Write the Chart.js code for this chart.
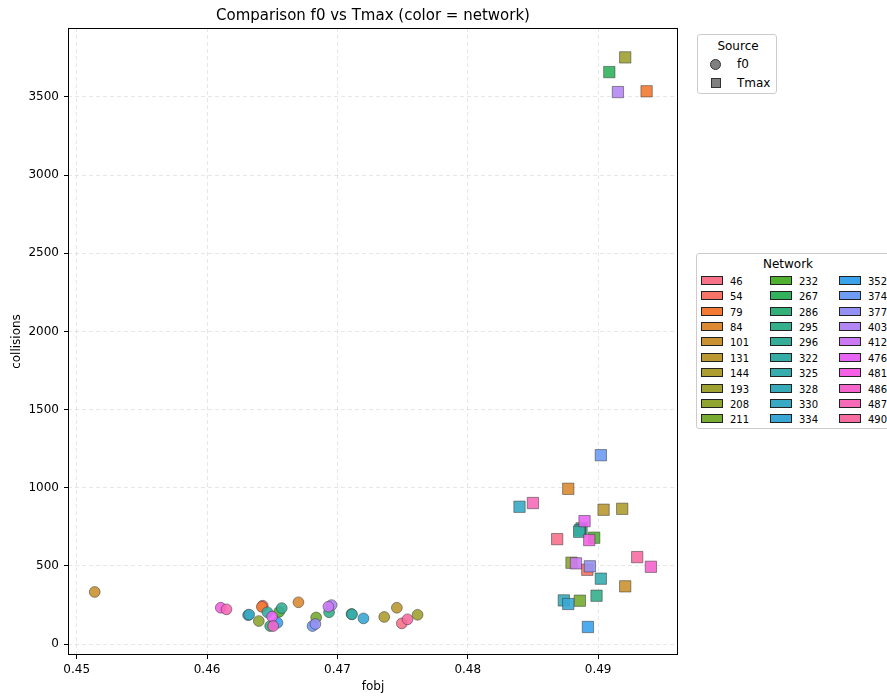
<!DOCTYPE html>
<html>
<head>
<meta charset="utf-8">
<script src="https://cdn.jsdelivr.net/npm/chart.js@4.4.1/dist/chart.umd.min.js"></script>
<style>
  html, body { margin: 0; padding: 0; background: #fff; overflow: hidden; }
  #wrap { position: relative; width: 887px; height: 697px; font-family: "DejaVu Sans", sans-serif; color: #000; }
  #chart { position: absolute; left: 0; top: 0; }
  #title { position: absolute; left: 373px; top: 15px; transform: translate(-50%, -50%); font-size: 15px; white-space: nowrap; }
  .legend { position: absolute; background: #fff; border: 1px solid #ccc; border-radius: 3px; box-sizing: border-box; }
  .legend .ttl { position: absolute; font-size: 12px; white-space: nowrap; transform: translate(-50%, -50%); }
  .legend .lbl { position: absolute; white-space: nowrap; transform: translateY(-50%); }
  .legend .mk { position: absolute; box-sizing: border-box; }
</style>
</head>
<body>
<div id="wrap">
  <canvas id="chart" width="887" height="697"></canvas>
  <div id="title">Comparison f0 vs Tmax (color = network)</div>
  <div id="srcLegend" class="legend"></div>
  <div id="netLegend" class="legend"></div>
</div>
<script>
// networks, in palette order
const networks = [46, 54, 79, 84, 101, 131, 144, 193, 208, 211, 232, 267, 286, 295, 296,
                  322, 325, 328, 330, 334, 352, 374, 377, 403, 412, 476, 481, 486, 487, 490];

// f0 result per network
const f0Fobj = [0.47494, 0.46427, 0.46420, 0.46701, 0.45138, 0.47456, 0.47359, 0.47615, 0.46397, 0.46837,
                0.46553, 0.47108, 0.46484, 0.46936, 0.46573, 0.46463, 0.47112, 0.46315, 0.46323, 0.47200,
                0.46540, 0.46809, 0.46831, 0.46955, 0.46931, 0.46499, 0.46105, 0.46507, 0.46149, 0.47538];
const f0Coll = [132, 245, 238, 267, 333, 232, 173, 187, 147, 170,
                206, 192, 115, 203, 230, 203, 190, 185, 188, 164,
                136, 115, 128, 249, 239, 175, 232, 115, 222, 158];

// Tmax result per network
const tmaxFobj = [0.48686, 0.48917, 0.49372, 0.48771, 0.49208, 0.49042, 0.49185, 0.49208, 0.48796, 0.48860,
                  0.48970, 0.49086, 0.48873, 0.48988, 0.48860, 0.48855, 0.49021, 0.48737, 0.48397, 0.48771,
                  0.48922, 0.49021, 0.48937, 0.49152, 0.48830, 0.48896, 0.48932, 0.49405, 0.48500, 0.49300];
const tmaxColl = [671, 475, 3536, 993, 369, 859, 865, 3753, 520, 277,
                  680, 3659, 740, 309, 728, 718, 418, 279, 878, 256,
                  109, 1208, 497, 3531, 516, 786, 665, 494, 902, 556];

const xTicks = [0.45, 0.46, 0.47, 0.48, 0.49];
const yTicks = [0, 500, 1000, 1500, 2000, 2500, 3000, 3500];

// husl palette (seaborn style): evenly spaced hues, s=.9, l=.65
function huslColor(h, s, l) {
  const M = [[3.240969941904521, -1.537383177570093, -0.498610760293],
             [-0.96924363628087, 1.87596750150772, 0.041555057407175],
             [0.055630079696993, -0.20397695888897, 1.056971514242878]];
  const refU = 0.19783000664283, refV = 0.46831999493879;
  const kappa = 903.2962962, eps = 0.0088564516;
  // max chroma for this lightness / hue
  const sub1 = Math.pow(l + 16, 3) / 1560896;
  const sub2 = sub1 > eps ? sub1 : l / kappa;
  const hrad = h / 360 * 2 * Math.PI;
  let maxC = Infinity;
  for (const [m1, m2, m3] of M) {
    for (const t of [0, 1]) {
      const top1 = (284517 * m1 - 94839 * m3) * sub2;
      const top2 = (838422 * m3 + 769860 * m2 + 731718 * m1) * l * sub2 - 769860 * t * l;
      const bottom = (632260 * m3 - 126452 * m2) * sub2 + 126452 * t;
      const slope = top1 / bottom, icpt = top2 / bottom;
      const len = icpt / (Math.sin(hrad) - slope * Math.cos(hrad));
      if (len >= 0 && len < maxC) maxC = len;
    }
  }
  const c = maxC / 100 * s;
  const u = c * Math.cos(hrad), v = c * Math.sin(hrad);
  const Y = l > 8 ? Math.pow((l + 16) / 116, 3) : l / kappa;
  const vu = u / (13 * l) + refU, vv = v / (13 * l) + refV;
  const X = 0 - (9 * Y * vu) / ((vu - 4) * vv - vu * vv);
  const Z = (9 * Y - 15 * vv * Y - vv * X) / (3 * vv);
  const rgb = M.map(r => {
    let ch = r[0] * X + r[1] * Y + r[2] * Z;
    ch = ch <= 0.0031308 ? 12.92 * ch : 1.055 * Math.pow(ch, 1 / 2.4) - 0.055;
    return Math.round(Math.min(1, Math.max(0, ch)) * 255);
  });
  return rgb;
}

const palette = networks.map((_, i) => {
  const h = ((i / networks.length + 0.01) % 1) * 359;
  return huslColor(h, 89.1, 64.35);
});
const rgba = (c, a) => `rgba(${c[0]},${c[1]},${c[2]},${a})`;

const f0Points = networks.map((_, i) => ({ x: f0Fobj[i], y: f0Coll[i] }));
const tmaxPoints = networks.map((_, i) => ({ x: tmaxFobj[i], y: tmaxColl[i] }));

// full frame around the plot area
const frame = {
  id: 'frame',
  afterDraw(chart) {
    const { ctx, chartArea: a } = chart;
    ctx.save();
    ctx.strokeStyle = '#000';
    ctx.lineWidth = 1;
    ctx.strokeRect(a.left + 0.5, a.top + 0.5, a.right - a.left - 1, a.bottom - a.top - 1);
    ctx.restore();
  }
};

const ctx = document.getElementById('chart').getContext('2d');
new Chart(ctx, {
  type: 'scatter',
  data: {
    datasets: [{
      label: 'f0',
      data: f0Points,
      pointStyle: 'circle',
      pointRadius: 5.4,
      pointHoverRadius: 5.4,
      backgroundColor: palette.map(c => rgba(c, 0.9)),
      borderColor: 'rgba(50,50,50,0.85)',
      borderWidth: 0.6
    }, {
      label: 'Tmax',
      data: tmaxPoints,
      pointStyle: 'rect',
      pointRadius: 8,
      pointHoverRadius: 8,
      backgroundColor: palette.map(c => rgba(c, 0.9)),
      borderColor: 'rgba(50,50,50,0.85)',
      borderWidth: 0.6
    }]
  },
  options: {
    responsive: false,
    animation: false,
    // title sits above the plot area (html), so keep room for it here
    layout: { padding: { left: 0, right: 209, top: 28, bottom: 0 } },
    plugins: {
      legend: { display: false },
      tooltip: { enabled: false },
      title: { display: false }
    },
    scales: {
      x: {
        type: 'linear',
        min: 0.44933,
        max: 0.49613,
        afterBuildTicks: s => { s.ticks = xTicks.map(v => ({ value: v })); },
        afterFit: s => { s.height = 42; },
        ticks: {
          color: '#000',
          font: { family: 'DejaVu Sans', size: 12 },
          padding: 4,
          maxRotation: 0,
          callback: v => v.toFixed(2)
        },
        grid: { color: 'rgba(0,0,0,0.12)', tickColor: '#000', tickLength: 4, tickWidth: 1, lineWidth: 0.8 },
        border: { display: false, dash: [4, 3] },
        title: { display: true, text: 'fobj', color: '#000', font: { family: 'DejaVu Sans', size: 12 }, padding: { top: 0, bottom: 3 } }
      },
      y: {
        type: 'linear',
        min: -70.3,
        max: 3941,
        afterBuildTicks: s => { s.ticks = yTicks.map(v => ({ value: v })); },
        afterFit: s => { s.width = 68; },
        ticks: {
          color: '#000',
          font: { family: 'DejaVu Sans', size: 12 },
          padding: 5,
          callback: v => String(v)
        },
        grid: { color: 'rgba(0,0,0,0.12)', tickColor: '#000', tickLength: 4, tickWidth: 1, lineWidth: 0.8 },
        border: { display: false, dash: [4, 3] },
        title: { display: true, text: 'collisions', color: '#000', font: { family: 'DejaVu Sans', size: 12 }, padding: { top: 10, bottom: 0 } }
      }
    }
  },
  plugins: [frame]
});

// Source legend (marker shapes)
const src = document.getElementById('srcLegend');
Object.assign(src.style, { left: '697px', top: '34px', width: '80px', height: '60px' });
src.innerHTML =
  '<div class="ttl" style="left:40px;top:11px">Source</div>' +
  '<div class="mk" style="left:12px;top:24px;width:11px;height:11px;border-radius:50%;background:#808080;border:1px solid #333"></div>' +
  '<div class="lbl" style="left:39px;top:29px;font-size:12px">f0</div>' +
  '<div class="mk" style="left:13px;top:43px;width:10px;height:10px;background:#808080;border:1px solid #333"></div>' +
  '<div class="lbl" style="left:39px;top:48px;font-size:12px">Tmax</div>';

// Network legend (colour swatches, 3 columns of 10)
const net = document.getElementById('netLegend');
Object.assign(net.style, { left: '696px', top: '253px', width: '200px', height: '176px' });
let html = '<div class="ttl" style="left:91px;top:10px">Network</div>';
networks.forEach((n, i) => {
  const col = Math.floor(i / 10), row = i % 10;
  const x = 4 + col * 69, y = 27 + row * 15.37;
  html += `<div class="mk" style="left:${x}px;top:${y - 5}px;width:22px;height:9px;background:${rgba(palette[i], 1)};border:1px solid #222"></div>`;
  html += `<div class="lbl" style="left:${x + 29}px;top:${y}px;font-size:10px">${n}</div>`;
});
net.innerHTML = html;
</script>
</body>
</html>
